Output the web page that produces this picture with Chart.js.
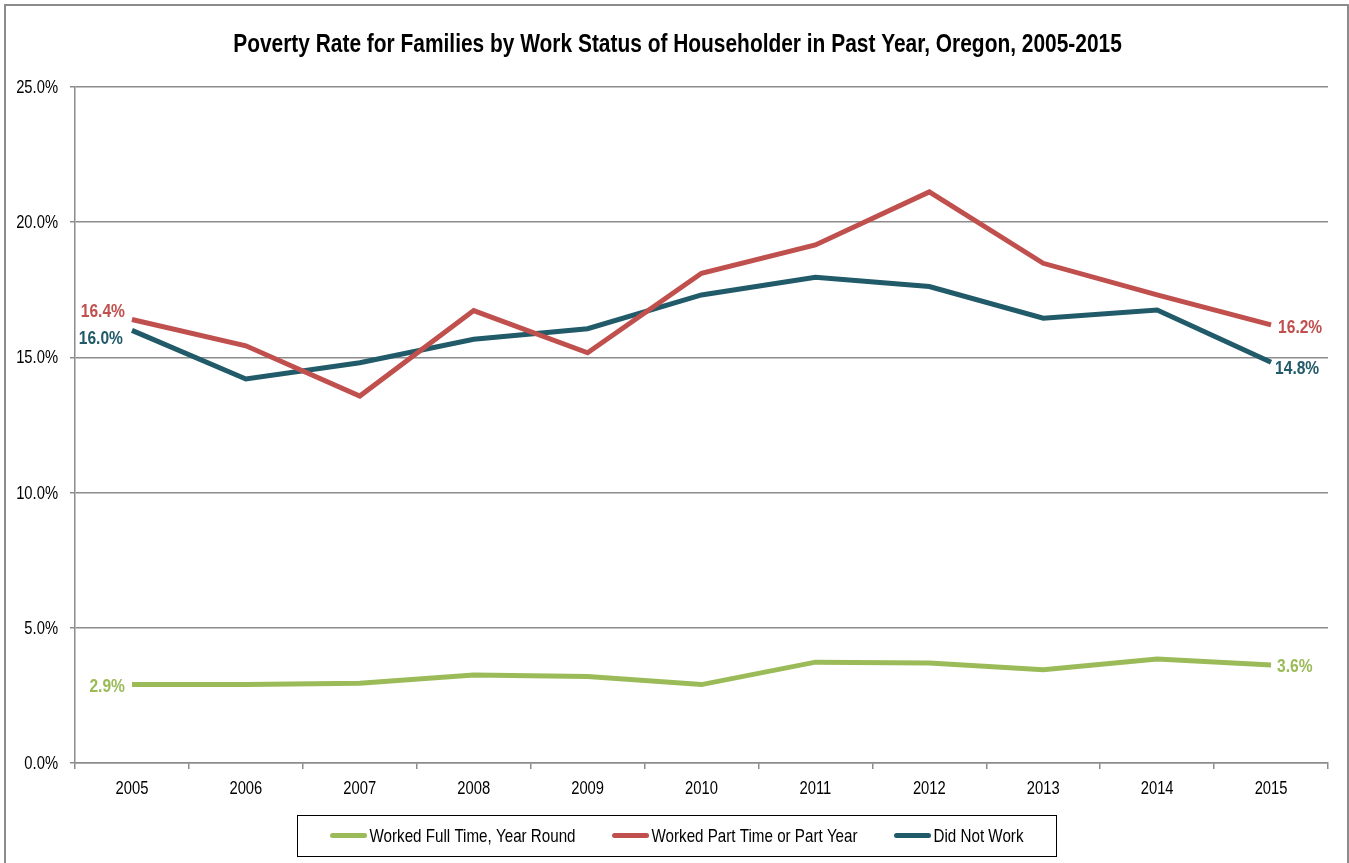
<!DOCTYPE html>
<html lang="en">
<head>
    <meta charset="UTF-8">
    <title>Poverty Rate for Families by Work Status of Householder</title>
    <script src="https://cdn.jsdelivr.net/npm/chart.js"></script>
    <style>
        html, body { margin: 0; padding: 0; background: #fff; overflow: hidden; }
        #frame { position: absolute; left: 4px; top: 4px; width: 1341px; height: 900px; border: 2px solid #8c8c8c; }
        #wrap { position: absolute; left: 0; top: 0; width: 1349px; height: 863px; }
    </style>
</head>
<body>
    <div id="frame"></div>
    <div id="wrap"><canvas id="povertyChart" width="1349" height="863"></canvas></div>
    <script>
        // Arial Narrow look: Liberation Sans squeezed horizontally
        const FONT = "'Liberation Sans', Arial, sans-serif";
        const NARROW = 0.82;

        const chartTitle = 'Poverty Rate for Families by Work Status of Householder in Past Year, Oregon, 2005-2015';
        const years = ['2005', '2006', '2007', '2008', '2009', '2010', '2011', '2012', '2013', '2014', '2015'];
        const fullTime = [2.9, 2.9, 2.95, 3.25, 3.2, 2.9, 3.73, 3.7, 3.45, 3.85, 3.62];
        const partTime = [16.4, 15.43, 13.57, 16.73, 15.17, 18.11, 19.16, 21.12, 18.48, 17.31, 16.2];
        const didNotWork = [16.0, 14.2, 14.8, 15.67, 16.06, 17.31, 17.96, 17.62, 16.45, 16.75, 14.82];
        const seriesNames = ['Worked Full Time, Year Round', 'Worked Part Time or Part Year', 'Did Not Work'];
        const colors = ['#9bbb59', '#c0504d', '#215a69'];

        // offsets for the end labels (first point, last point)
        const labelOffsets = [
            { first: [-7, 2], last: [6, 2] },
            { first: [-7, -8], last: [7, 3] },
            { first: [-9, 8], last: [4, 6] }
        ];

        function narrowText(ctx, text, x, y, align, font, color) {
            ctx.save();
            ctx.font = font;
            ctx.fillStyle = color;
            ctx.textAlign = align;
            ctx.textBaseline = 'middle';
            ctx.translate(x, y);
            ctx.scale(NARROW, 1);
            ctx.fillText(text, 0, 0);
            ctx.restore();
        }

        function narrowWidth(ctx, text, font) {
            ctx.save();
            ctx.font = font;
            const w = ctx.measureText(text).width * NARROW;
            ctx.restore();
            return w;
        }

        // Plugin: title and axis tick labels in narrow type
        const narrowTexts = {
            id: 'narrowTexts',
            afterDraw: (chart) => {
                const ctx = chart.ctx;
                narrowText(ctx, chartTitle, chart.width / 2 + 3, 45, 'center', 'bold 25.5px ' + FONT, '#000');
                const xs = chart.scales.x, ys = chart.scales.y;
                ys.ticks.forEach((t, i) => {
                    narrowText(ctx, t.value.toFixed(1) + '%', ys.right - 17, ys.getPixelForTick(i) + 1, 'right', '18px ' + FONT, '#000');
                });
                xs.ticks.forEach((t, i) => {
                    narrowText(ctx, years[t.value], xs.getPixelForTick(i), xs.top + 26, 'center', '18px ' + FONT, '#000');
                });
            }
        };

        // Plugin: value labels at first and last point
        const endLabels = {
            id: 'endLabels',
            afterDatasetsDraw: (chart) => {
                const ctx = chart.ctx;
                const font = 'bold 19px ' + FONT;
                chart.data.datasets.forEach((ds, i) => {
                    const pts = chart.getDatasetMeta(i).data;
                    const first = pts[0];
                    const last = pts[pts.length - 1];
                    const off = labelOffsets[i];
                    narrowText(ctx, ds.data[0].toFixed(1) + '%', first.x + off.first[0], first.y + off.first[1], 'right', font, ds.borderColor);
                    narrowText(ctx, ds.data[ds.data.length - 1].toFixed(1) + '%', last.x + off.last[0], last.y + off.last[1], 'left', font, ds.borderColor);
                });
            }
        };

        // Plugin: boxed legend below the x axis
        const boxLegend = {
            id: 'boxLegend',
            afterDraw: (chart) => {
                const ctx = chart.ctx;
                const font = '18.5px ' + FONT;
                const sample = 38, gapText = 2, gapItems = 36;
                const items = chart.data.datasets.map(ds => ({
                    label: ds.label, color: ds.borderColor,
                    w: sample + gapText + narrowWidth(ctx, ds.label, font)
                }));
                const total = items.reduce((s, it) => s + it.w, 0) + gapItems * (items.length - 1);
                const cx = 676.5;
                const cy = 835.5;
                const boxW = 759, boxH = 41;
                ctx.save();
                ctx.strokeStyle = '#000';
                ctx.lineWidth = 1;
                ctx.strokeRect(Math.round(cx - boxW / 2) + 0.5, Math.round(cy - boxH / 2) + 0.5, boxW, boxH);
                let x = cx - total / 2;
                items.forEach(it => {
                    ctx.strokeStyle = it.color;
                    ctx.lineWidth = 5;
                    ctx.lineCap = 'round';
                    ctx.beginPath();
                    ctx.moveTo(x + 3, cy);
                    ctx.lineTo(x + sample - 3, cy);
                    ctx.stroke();
                    narrowText(ctx, it.label, x + sample + gapText, cy + 1, 'left', font, '#000');
                    x += it.w + gapItems;
                });
                ctx.restore();
            }
        };

        const ctx = document.getElementById('povertyChart').getContext('2d');
        const series = [fullTime, partTime, didNotWork];

        const myChart = new Chart(ctx, {
            type: 'line',
            data: {
                labels: years,
                datasets: series.map((vals, i) => ({
                    label: seriesNames[i],
                    data: vals,
                    borderColor: colors[i],
                    backgroundColor: colors[i],
                    borderWidth: 5,
                    pointRadius: 0,
                    tension: 0,
                    fill: false
                }))
            },
            options: {
                responsive: false,
                maintainAspectRatio: false,
                animation: false,
                layout: { padding: { left: 0, right: 21, top: 87, bottom: 65 } },
                scales: {
                    x: {
                        offset: true,
                        grid: {
                            offset: true,
                            drawOnChartArea: false,
                            drawTicks: true,
                            tickLength: 6,
                            color: '#8c8c8c',
                            lineWidth: 1.5
                        },
                        border: { color: '#8c8c8c', width: 1.5 },
                        ticks: {
                            color: 'rgba(0,0,0,0)',
                            font: { family: FONT, size: 14 },
                            padding: 9,
                            maxRotation: 0,
                            autoSkip: false
                        },
                        afterFit: (scale) => { scale.height = 35; }
                    },
                    y: {
                        min: 0,
                        max: 25,
                        grid: {
                            color: '#8c8c8c',
                            lineWidth: 1.5,
                            tickLength: 5
                        },
                        border: { color: '#8c8c8c', width: 1.5 },
                        ticks: {
                            stepSize: 5,
                            color: 'rgba(0,0,0,0)',
                            font: { family: FONT, size: 14 },
                            padding: 11,
                            callback: (v) => v.toFixed(1) + '%'
                        },
                        afterFit: (scale) => { scale.width = 75; }
                    }
                },
                plugins: {
                    legend: { display: false },
                    tooltip: { enabled: false },
                    title: { display: false }
                }
            },
            plugins: [endLabels, narrowTexts, boxLegend]
        });
    </script>
</body>
</html>
